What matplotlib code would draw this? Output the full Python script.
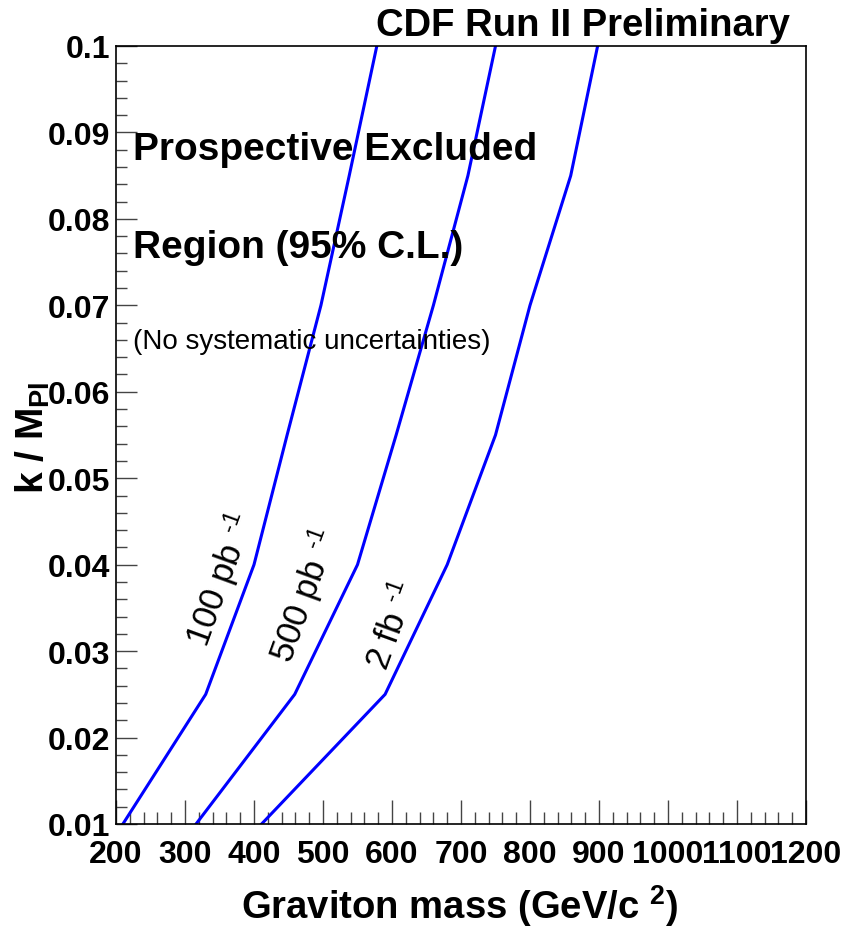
import matplotlib
matplotlib.use("Agg")
import matplotlib.pyplot as plt
from matplotlib.ticker import MultipleLocator, FixedLocator

plt.rcParams['font.family'] = ['Liberation Sans', 'DejaVu Sans']
plt.rcParams['mathtext.fontset'] = 'custom'
plt.rcParams['mathtext.rm'] = 'Liberation Sans'
plt.rcParams['mathtext.it'] = 'Liberation Sans'
plt.rcParams['mathtext.bf'] = 'Liberation Sans:bold'

# Data: k/M_Pl coupling vs graviton mass exclusion contours
coupling = [0.01, 0.025, 0.04, 0.055, 0.07, 0.085, 0.1]
mass_100pb = [210, 330, 400, 448, 497, 538, 578]
mass_500pb = [316, 459, 550, 606, 660, 710, 750]
mass_2fb = [411, 590, 680, 750, 800, 859, 898]
curve_labels = ["100 pb $^{\u2010 1}$", "500 pb $^{\u2010 1}$", "2 fb $^{\u2010 1}$"]
x_ticks = [200, 300, 400, 500, 600, 700, 800, 900, 1000, 1100, 1200]
y_ticks = [0.01, 0.02, 0.03, 0.04, 0.05, 0.06, 0.07, 0.08, 0.09, 0.1]
y_ticklabels = ["0.01", "0.02", "0.03", "0.04", "0.05", "0.06", "0.07", "0.08", "0.09", "0.1"]

W, H = 855, 929
fig = plt.figure(figsize=(W / 100, H / 100), dpi=100)
ax = fig.add_axes([116 / W, 1 - 825 / H, (806 - 116) / W, (825 - 47) / H])

for m in (mass_100pb, mass_500pb, mass_2fb):
    ax.plot(m, coupling, color=(0, 0, 1), lw=2.2, solid_joinstyle='miter', clip_on=True)

ax.set_xlim(200, 1200)
ax.set_ylim(0.01, 0.1)

ax.xaxis.set_major_locator(FixedLocator(x_ticks))
ax.xaxis.set_minor_locator(MultipleLocator(20))
ax.set_xticklabels([str(v) for v in x_ticks])
ax.yaxis.set_major_locator(FixedLocator(y_ticks))
ax.yaxis.set_minor_locator(MultipleLocator(0.002))
ax.set_yticklabels(y_ticklabels)

for lab in ax.get_xticklabels() + ax.get_yticklabels():
    lab.set_fontweight('bold')
    lab.set_fontsize(23)

ax.tick_params(axis='x', which='major', direction='in', length=17, width=1, pad=11,
               top=False, color='#444444')
ax.tick_params(axis='x', which='minor', direction='in', length=9, width=1, top=False,
               color='#444444')
ax.tick_params(axis='y', which='major', direction='in', length=15, width=1, pad=4,
               right=False, color='#444444')
ax.tick_params(axis='y', which='minor', direction='in', length=8, width=1, right=False,
               color='#444444')
for s in ax.spines.values():
    s.set_linewidth(1.2)

ax.set_xlabel("Graviton mass (GeV/c $^{\\mathbf{2}}$)", fontsize=27.5, fontweight='bold')
ax.xaxis.set_label_coords((460 - 116) / 690, -(919 - 825) / 778)
ax.xaxis.label.set_va('baseline')
ax.set_ylabel("k / M$_{\\mathbf{Pl}}$", fontsize=28, fontweight='bold')
ax.yaxis.set_label_coords(-(116 - 33) / 690, (825 - 438) / 778)
ax.yaxis.label.set_va('center')

fig.text(583 / W, 1 - 26 / H, "CDF Run II Preliminary", fontsize=27.5, fontweight='bold',
         ha='center', va='center')

ax.text(0.0246, (825 - 150) / 778, "Prospective Excluded", transform=ax.transAxes,
        fontsize=28, fontweight='bold', ha='left', va='center')
ax.text(0.0246, (825 - 248) / 778, "Region (95% C.L.)", transform=ax.transAxes,
        fontsize=28, fontweight='bold', ha='left', va='center')
ax.text(0.0246, (825 - 342) / 778, "(No systematic uncertainties)", transform=ax.transAxes,
        fontsize=20, ha='left', va='center')

label_pos = [(220, 580), (304, 596), (393, 626)]
for (px, py), txt in zip(label_pos, curve_labels):
    ax.text((px - 116) / 690, (825 - py) / 778, txt, transform=ax.transAxes,
            fontsize=25, rotation=70, ha='center', va='center', rotation_mode='anchor')

fig.savefig("out.png", dpi=100)
